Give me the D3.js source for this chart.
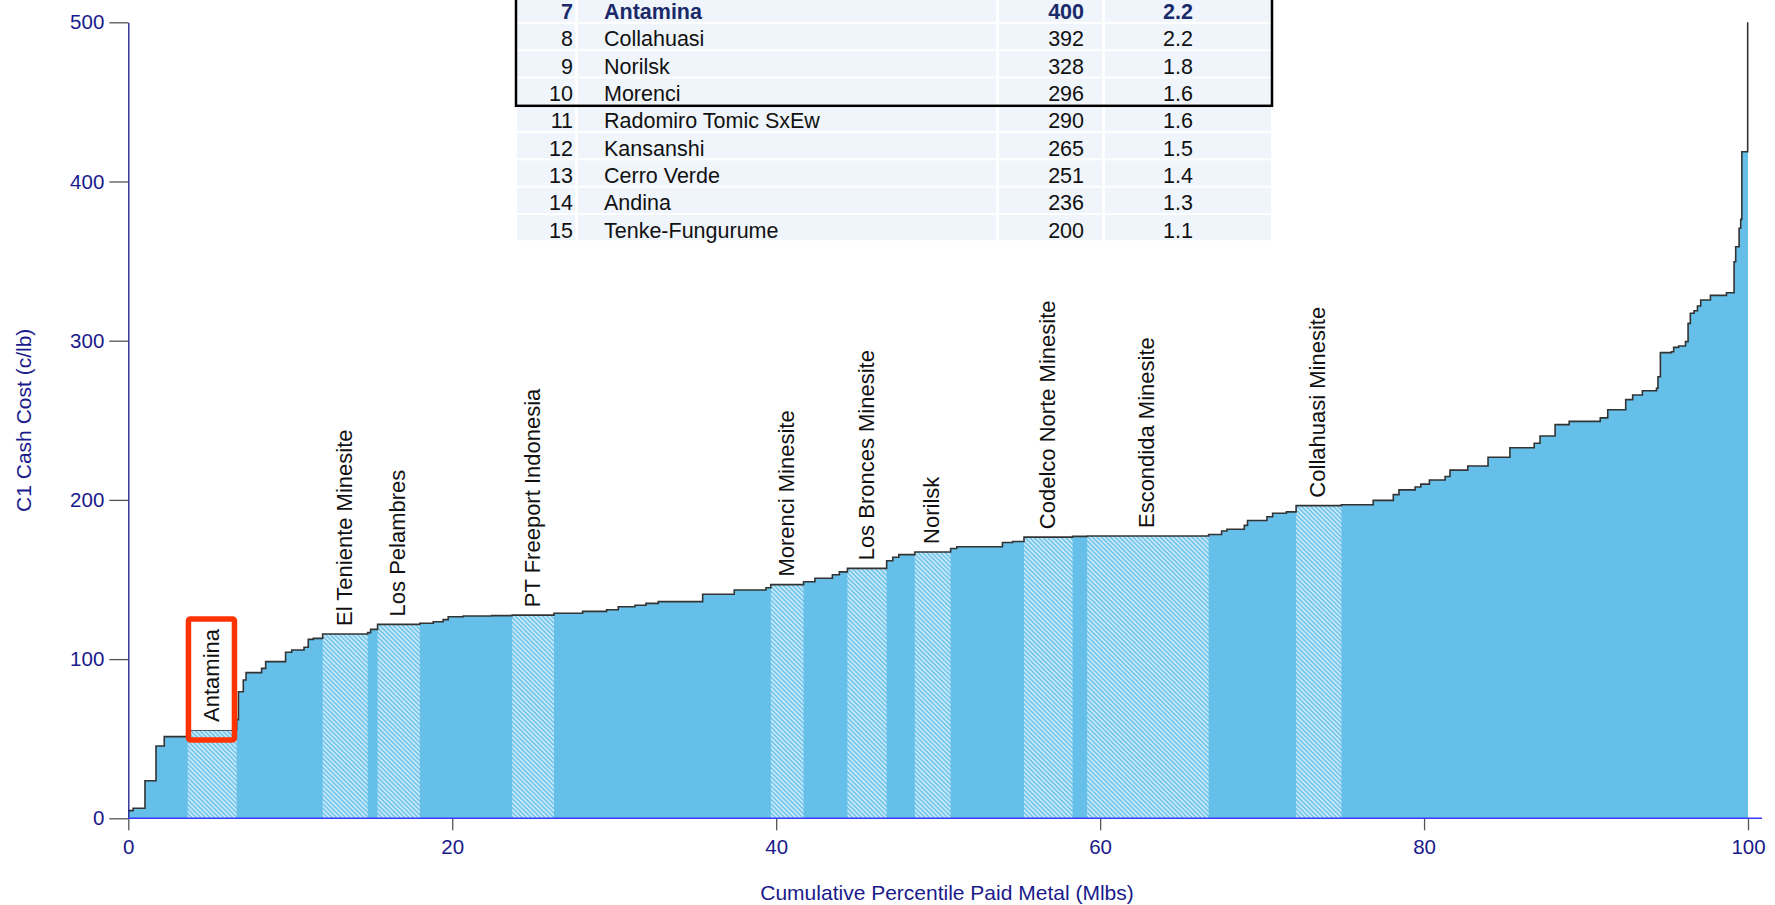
<!DOCTYPE html>
<html lang="en">
<head>
<meta charset="utf-8">
<title>C1 Cash Cost curve</title>
<script src="https://cdn.jsdelivr.net/npm/d3@7"></script>
<style>
    body { margin: 0; background: #fff; }
    svg { display: block; font-family: "Liberation Sans", Arial, sans-serif; }
</style>
</head>
<body>
<svg width="1775" height="905"></svg>
<script>

    // right edge of each mine on the cumulative percentile axis, and its C1 cost (c/lb)
    var cumPct = [0.3, 1.03, 1.71, 2.22, 3.67, 6.69, 6.8, 7.1, 7.27, 8.23,
        8.48, 9.71, 10.09, 10.85, 11.11, 11.42, 12.0, 14.78, 14.96, 15.39,
        18.0, 18.83, 19.44, 19.75, 20.68, 22.43, 23.7, 26.28, 28.05, 29.53,
        30.25, 31.28, 31.96, 32.72, 35.46, 37.41, 39.37, 39.67, 41.69, 42.39,
        43.47, 43.9, 44.4, 46.82, 47.2, 47.57, 48.56, 50.77, 51.15, 53.97,
        54.6, 55.3, 58.3, 59.2, 66.7, 67.5, 67.83, 68.9, 69.1, 70.3,
        70.65, 71.5, 72.1, 74.9, 76.86, 78.1, 78.45, 79.45, 79.8, 80.33,
        81.3, 81.6, 82.7, 83.95, 85.3, 86.8, 87.16, 88.09, 88.96, 90.88,
        91.34, 92.45, 92.88, 93.48, 94.35, 94.44, 94.59, 95.27, 95.41, 95.72,
        96.14, 96.3, 96.44, 96.67, 96.88, 97.08, 97.68, 98.67, 99.14, 99.24,
        99.45, 99.55, 99.62, 99.98, 100];
    var c1Cost = [4.8, 6.3, 23.6, 45.4, 51.3, 55.5, 62, 79.5, 86.9, 91.5,
        94.2, 98.4, 104.3, 105.7, 107.4, 112.4, 113, 115.8, 116.6, 118.7,
        121.8, 122.5, 123.5, 124.8, 126.6, 127.1, 127.3, 127.6, 128.8, 130,
        131, 132.9, 133.8, 135, 136.1, 140.7, 143.4, 144.8, 146.8, 148.6,
        150.8, 153, 154.8, 157, 161.8, 164, 165.6, 167.3, 169.5, 170.6,
        173.2, 173.9, 176.6, 177.1, 177.3, 178.3, 180.5, 181.6, 184, 187.1,
        189.4, 191.6, 192.5, 196.4, 197, 199.7, 203.3, 206.3, 208.1, 209.9,
        212.5, 214.7, 218.7, 221.3, 226.8, 232.8, 235.6, 240.1, 247.3, 249.3,
        251.5, 256.6, 263, 265.9, 268.6, 270.1, 277.4, 292.5, 293.1, 295.8,
        296.7, 299.4, 310.9, 317.2, 318.8, 321.8, 325.6, 328.5, 330.1, 349.6,
        359, 370.6, 376.2, 418.7, 520];

    // named mines, found by the right edge of their step
    var labelledMines = ["Antamina", "El Teniente Minesite", "Los Pelambres", "PT Freeport Indonesia",
        "Morenci Minesite", "Los Bronces Minesite", "Norilsk", "Codelco Norte Minesite",
        "Escondida Minesite", "Collahuasi Minesite"];
    var labelledEnd = [6.69, 14.78, 18.0, 26.28, 41.69, 46.82, 50.77, 58.3, 66.7, 74.9];
    var boxedMine = "Antamina";

    // ranking table
    var tableRank = [7, 8, 9, 10, 11, 12, 13, 14, 15];
    var tableMine = ["Antamina", "Collahuasi", "Norilsk", "Morenci", "Radomiro Tomic SxEw",
        "Kansanshi", "Cerro Verde", "Andina", "Tenke-Fungurume"];
    var tableMlbs = [400, 392, 328, 296, 290, 265, 251, 236, 200];
    var tableShare = ["2.2", "2.2", "1.8", "1.6", "1.6", "1.5", "1.4", "1.3", "1.1"];
    var boxedRows = 4;

    var xTicks = [0, 20, 40, 60, 80, 100];
    var yTicks = [0, 100, 200, 300, 400, 500];

    var navy = "#1a1a8c";
    var fillBlue = "#65bfe9";

    var svg = d3.select("svg");

    var x = d3.scaleLinear().domain([0, 100]).range([128.3, 1748]);
    var y = d3.scaleLinear().domain([0, 500]).range([818.3, 22.3]);

    var steps = cumPct.map(function (e, i) {
        return { x0: i ? cumPct[i - 1] : 0, x1: e, v: c1Cost[i] };
    });
    var pts = steps.map(function (d) { return [d.x0, d.v]; });
    pts.push([100, c1Cost[c1Cost.length - 1]]);

    var defs = svg.append("defs");
    defs.append("clipPath").attr("id", "plot")
        .append("rect")
        .attr("x", x(0)).attr("y", y(500))
        .attr("width", x(100) - x(0) + 2).attr("height", y(0) - y(500));

    var hatch = defs.append("pattern")
        .attr("id", "hatch")
        .attr("patternUnits", "userSpaceOnUse")
        .attr("width", 3.2).attr("height", 3.2)
        .attr("patternTransform", "rotate(-45)");
    hatch.append("rect").attr("width", 3.2).attr("height", 3.2).attr("fill", "#74c6ec");
    hatch.append("rect").attr("width", 1.3).attr("height", 3.2).attr("fill", "#ffffff").attr("opacity", 0.75);

    var plot = svg.append("g").attr("clip-path", "url(#plot)");

    plot.append("path")
        .datum(pts)
        .attr("fill", fillBlue)
        .attr("d", d3.area()
            .x(function (d) { return x(d[0]); })
            .y0(y(0))
            .y1(function (d) { return y(d[1]); })
            .curve(d3.curveStepAfter));

    var named = labelledMines.map(function (name, i) {
        var s = steps.find(function (d) { return d.x1 === labelledEnd[i]; });
        return { name: name, x0: s.x0, x1: s.x1, v: s.v };
    });

    plot.selectAll("rect.hatched")
        .data(named)
        .enter().append("rect")
        .attr("class", "hatched")
        .attr("x", function (d) { return x(d.x0); })
        .attr("y", function (d) { return y(d.v); })
        .attr("width", function (d) { return x(d.x1) - x(d.x0); })
        .attr("height", function (d) { return y(0) - y(d.v); })
        .attr("fill", "url(#hatch)");

    // white patch behind the boxed label
    var boxed = named.find(function (d) { return d.name === boxedMine; });
    var bx0 = x(boxed.x0) + 0.7, bx1 = x(boxed.x1) - 2.2;
    svg.append("rect")
        .attr("x", bx0).attr("y", y(boxed.v) - 111)
        .attr("width", bx1 - bx0).attr("height", 111)
        .attr("fill", "#fff");

    plot.append("path")
        .datum(pts)
        .attr("fill", "none")
        .attr("stroke", "#333")
        .attr("stroke-width", 1.6)
        .attr("d", d3.line()
            .x(function (d) { return x(d[0]); })
            .y(function (d) { return y(d[1]); })
            .curve(d3.curveStepAfter));

    svg.append("rect")
        .attr("x", bx0).attr("y", y(boxed.v) - 111)
        .attr("width", bx1 - bx0).attr("height", 121)
        .attr("rx", 2)
        .attr("fill", "none")
        .attr("stroke", "#ff3300")
        .attr("stroke-width", 5.5);

    svg.selectAll("text.mine")
        .data(named)
        .enter().append("text")
        .attr("class", "mine")
        .attr("transform", function (d) {
            return "translate(" + (x((d.x0 + d.x1) / 2) - 1) + "," + (y(d.v) - 8) + ") rotate(-90)";
        })
        .attr("dominant-baseline", "central")
        .attr("font-size", 22)
        .attr("fill", "#111")
        .text(function (d) { return d.name; });

    // axes
    var yAxis = svg.append("g")
        .attr("transform", "translate(" + x(0) + ",0)")
        .call(d3.axisLeft(y).tickValues(yTicks).tickSize(19).tickSizeOuter(0).tickPadding(5));
    yAxis.select(".domain").attr("stroke", navy).attr("stroke-width", 1.3);
    yAxis.selectAll(".tick line").attr("stroke", "#555").attr("stroke-width", 1.3);
    yAxis.selectAll(".tick text").attr("fill", navy).attr("font-size", 20.5)
        .attr("font-family", "Liberation Sans, Arial, sans-serif");

    var xAxis = svg.append("g")
        .attr("transform", "translate(0," + y(0) + ")")
        .call(d3.axisBottom(x).tickValues(xTicks).tickSize(12).tickSizeOuter(0).tickPadding(9));
    xAxis.select(".domain").remove();
    xAxis.selectAll(".tick line").attr("stroke", "#555").attr("stroke-width", 1.3);
    xAxis.selectAll(".tick text").attr("fill", navy).attr("font-size", 20.5)
        .attr("font-family", "Liberation Sans, Arial, sans-serif");
    xAxis.append("line")
        .attr("x1", x(0)).attr("x2", x(100) + 14)
        .attr("stroke", "#3b3bff").attr("stroke-width", 1.5);

    svg.append("text")
        .attr("transform", "translate(23," + y(250) + ") rotate(-90)")
        .attr("text-anchor", "middle")
        .attr("dominant-baseline", "central")
        .attr("font-size", 21)
        .attr("fill", navy)
        .text("C1 Cash Cost (c/lb)");

    svg.append("text")
        .attr("x", 947).attr("y", 900)
        .attr("text-anchor", "middle")
        .attr("font-size", 21)
        .attr("fill", navy)
        .text("Cumulative Percentile Paid Metal (Mlbs)");

    // ranking table at the top
    var cols = [[517, 575], [578, 996], [999, 1102], [1105, 1271]];
    var rowH = 27.3, rowTop = -3.4;
    var table = svg.append("g");

    var rows = table.selectAll("g.row")
        .data(tableRank)
        .enter().append("g")
        .attr("class", "row")
        .attr("transform", function (d, i) { return "translate(0," + (rowTop + i * rowH) + ")"; });

    cols.forEach(function (c) {
        rows.append("rect")
            .attr("x", c[0]).attr("width", c[1] - c[0])
            .attr("height", rowH - 2)
            .attr("fill", "#eff5fa");
    });

    function cell(txt, xPos, anchor) {
        rows.append("text")
            .attr("x", xPos).attr("y", 22.5)
            .attr("text-anchor", anchor)
            .attr("font-size", 21.5)
            .attr("font-weight", function (d, i) { return i === 0 ? "bold" : "normal"; })
            .attr("fill", function (d, i) { return i === 0 ? "#1b2a6b" : "#111"; })
            .text(txt);
    }
    cell(function (d) { return d; }, 573, "end");
    cell(function (d, i) { return tableMine[i]; }, 604, "start");
    cell(function (d, i) { return tableMlbs[i]; }, 1084, "end");
    cell(function (d, i) { return tableShare[i]; }, 1178, "middle");

    table.append("rect")
        .attr("x", 516).attr("y", -10)
        .attr("width", 756).attr("height", rowTop + boxedRows * rowH + 10)
        .attr("fill", "none")
        .attr("stroke", "#000")
        .attr("stroke-width", 2.5);

</script>
</body>
</html>
